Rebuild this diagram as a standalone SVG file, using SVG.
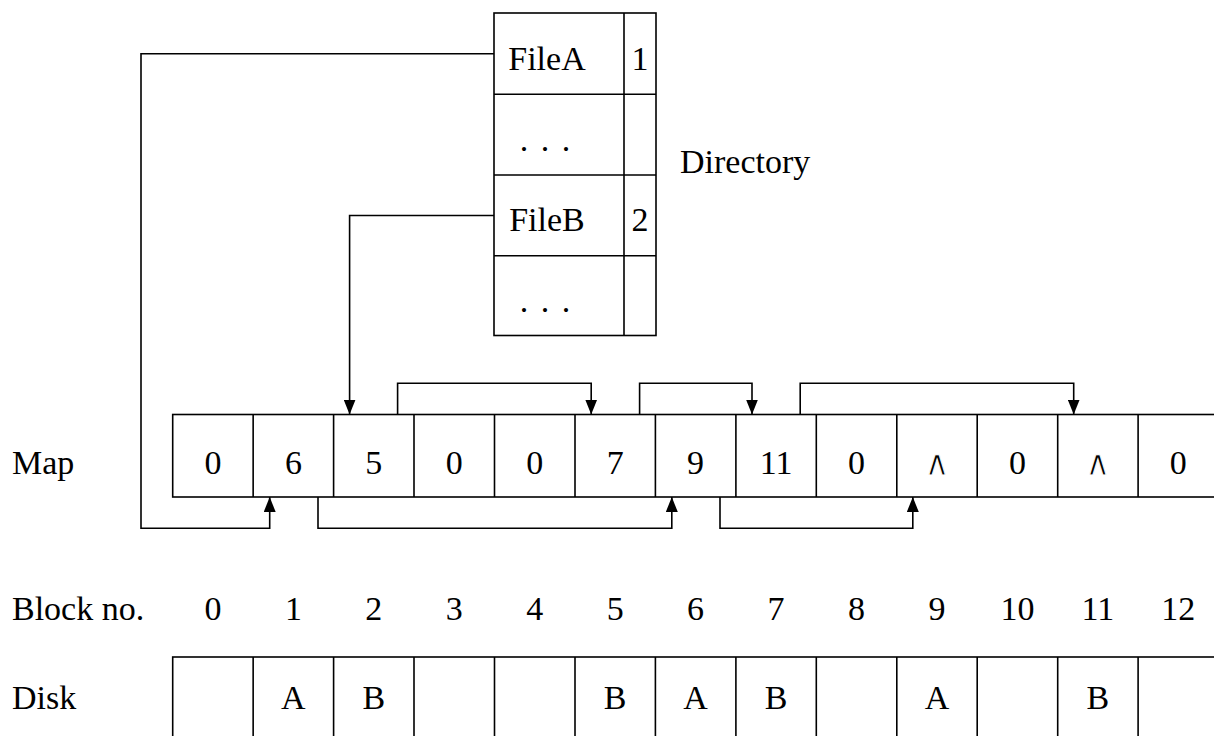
<svg xmlns="http://www.w3.org/2000/svg" width="1214" height="736" viewBox="0 0 1214 736">
<defs>
<marker id="ah" markerUnits="userSpaceOnUse" markerWidth="15" markerHeight="12" refX="15" refY="6" orient="auto">
<path d="M0,0 L15,6 L0,12 z" fill="#000"/>
</marker>
<style>
.t{font-family:"Liberation Serif","DejaVu Serif",serif;font-size:34px;fill:#000}
.c{text-anchor:middle}
.w{font-family:"DejaVu Sans",sans-serif;font-size:35px;stroke:#fff;stroke-width:1.0;paint-order:fill}
.d{word-spacing:4px}
.box{fill:#fff;stroke:#000;stroke-width:1.6}
.ln{fill:none;stroke:#000;stroke-width:1.6}
.conn path{fill:none;stroke:#000;stroke-width:1.6;marker-end:url(#ah)}
</style>
</defs>
<rect width="1214" height="736" fill="#fff"/>

<g id="directory">
<rect class="box" x="494" y="13" width="162" height="322.5"/>
<path class="ln" d="M624,13 V335.5 M494,94.3 H656 M494,175 H656 M494,255.7 H656"/>
<text class="t c" x="547" y="70">FileA</text>
<text class="t c" x="640" y="70">1</text>
<text class="t c d" x="545" y="151">. . .</text>
<text class="t c" x="547" y="231">FileB</text>
<text class="t c" x="640" y="231">2</text>
<text class="t c d" x="545" y="312">. . .</text>
<text class="t" x="680" y="173">Directory</text>
</g>

<g id="map">
<text class="t" x="12" y="474">Map</text>
<rect class="box" x="172.7" y="414.5" width="1046" height="82.5"/>
<path class="ln" d="M253.15,414.5V497 M333.6,414.5V497 M414,414.5V497 M494.5,414.5V497 M575,414.5V497 M655.4,414.5V497 M735.9,414.5V497 M816.3,414.5V497 M896.8,414.5V497 M977.2,414.5V497 M1057.7,414.5V497 M1138.1,414.5V497"/>
<text class="t c" x="212.9" y="474">0</text>
<text class="t c" x="293.4" y="474">6</text>
<text class="t c" x="373.8" y="474">5</text>
<text class="t c" x="454.3" y="474">0</text>
<text class="t c" x="534.7" y="474">0</text>
<text class="t c" x="615.2" y="474">7</text>
<text class="t c" x="695.6" y="474">9</text>
<text class="t c" x="776.1" y="474">11</text>
<text class="t c" x="856.5" y="474">0</text>
<text class="t c w" x="937" y="475">∧</text>
<text class="t c" x="1017.4" y="474">0</text>
<text class="t c w" x="1097.9" y="475">∧</text>
<text class="t c" x="1178.3" y="474">0</text>
</g>

<g id="blocknumbers">
<text class="t" x="12" y="620">Block no.</text>
<text class="t c" x="212.9" y="620">0</text>
<text class="t c" x="293.4" y="620">1</text>
<text class="t c" x="373.8" y="620">2</text>
<text class="t c" x="454.3" y="620">3</text>
<text class="t c" x="534.7" y="620">4</text>
<text class="t c" x="615.2" y="620">5</text>
<text class="t c" x="695.6" y="620">6</text>
<text class="t c" x="776.1" y="620">7</text>
<text class="t c" x="856.5" y="620">8</text>
<text class="t c" x="937" y="620">9</text>
<text class="t c" x="1017.4" y="620">10</text>
<text class="t c" x="1097.9" y="620">11</text>
<text class="t c" x="1178.3" y="620">12</text>
</g>

<g id="disk">
<text class="t" x="12" y="709">Disk</text>
<rect class="box" x="172.7" y="657" width="1046" height="90"/>
<path class="ln" d="M253.15,657V740 M333.6,657V740 M414,657V740 M494.5,657V740 M575,657V740 M655.4,657V740 M735.9,657V740 M816.3,657V740 M896.8,657V740 M977.2,657V740 M1057.7,657V740 M1138.1,657V740"/>
<text class="t c" x="293.4" y="709">A</text>
<text class="t c" x="373.8" y="709">B</text>
<text class="t c" x="615.2" y="709">B</text>
<text class="t c" x="695.6" y="709">A</text>
<text class="t c" x="776.1" y="709">B</text>
<text class="t c" x="937" y="709">A</text>
<text class="t c" x="1097.9" y="709">B</text>
</g>

<g id="connectors" class="conn">
<path d="M494,53.7 H141 V528.3 H269.7 V497"/>
<path d="M494,215.5 H349.6 V414.5"/>
<path d="M397.6,414.5 V383.3 H591.2 V414.5"/>
<path d="M639.6,414.5 V383.3 H752 V414.5"/>
<path d="M800.2,414.5 V383.3 H1073.7 V414.5"/>
<path d="M318,497 V528.3 H671.8 V497"/>
<path d="M720,497 V528.3 H912.8 V497"/>
</g>
</svg>
